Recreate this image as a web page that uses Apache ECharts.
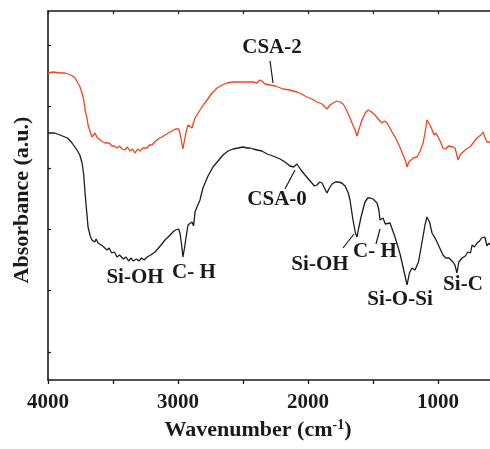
<!DOCTYPE html>
<html>
<head>
<meta charset="utf-8">
<script src="https://cdn.jsdelivr.net/npm/echarts@6/dist/echarts.min.js"></script>
<style>
  html, body { margin: 0; padding: 0; background: #ffffff; }
  #chart { width: 490px; height: 449px; }
</style>
</head>
<body>
<div id="chart"></div>
<script>
// FTIR spectra: [wavenumber (cm-1), absorbance (a.u.)]
const spectrumCSA0 = [
  [4000,24.7],[3950,24.7],[3908,24.5],[3850,24.2],[3815,23.7],[3777,23.0],[3755,22.5],[3738,21.7],[3725,20.5],[3715,18.7],
  [3700,16.5],[3692,15.3],[3675,14.4],[3662,14.0],[3650,14.2],[3640,13.8],[3630,14.1],[3615,13.7],[3600,13.9],[3580,13.4],
  [3565,13.6],[3546,13.0],[3530,13.2],[3510,12.7],[3490,12.8],[3469,12.3],[3450,12.5],[3420,12.1],[3400,12.3],[3380,11.9],
  [3360,12.2],[3346,11.9],[3320,12.1],[3300,11.9],[3280,12.2],[3260,12.0],[3238,12.3],[3210,12.5],[3177,12.8],[3150,13.2],
  [3130,13.5],[3100,14.0],[3085,14.2],[3060,14.5],[3040,14.8],[3020,15.0],[3008,15.1],[2995,15.1],[2985,14.7],[2972,13.5],
  [2962,12.3],[2950,13.2],[2938,14.3],[2923,15.5],[2908,15.7],[2892,15.8],[2880,15.4],[2869,16.8],[2854,17.3],[2831,18.0],
  [2808,19.2],[2769,20.4],[2731,21.3],[2692,21.9],[2654,22.5],[2615,22.9],[2577,23.1],[2538,23.2],[2500,23.3],[2470,23.2],
  [2446,23.2],[2420,23.1],[2392,23.0],[2354,22.9],[2315,22.6],[2269,22.4],[2215,22.1],[2177,21.8],[2138,21.4],[2110,21.3],
  [2085,21.6],[2054,21.0],[2023,20.5],[1977,19.8],[1950,19.4],[1931,19.5],[1910,19.8],[1892,19.7],[1870,19.1],[1854,18.7],
  [1835,19.2],[1815,19.6],[1790,19.8],[1769,19.8],[1740,19.7],[1715,19.4],[1690,18.7],[1677,18.0],[1654,16.0],[1635,14.7],
  [1623,14.3],[1610,15.2],[1592,16.3],[1562,17.8],[1540,18.2],[1523,18.2],[1500,18.1],[1469,17.7],[1455,17.0],[1446,16.0],
  [1423,16.2],[1405,15.6],[1392,15.5],[1369,15.7],[1350,15.0],[1331,14.3],[1310,13.4],[1292,12.6],[1269,11.3],[1250,10.2],
  [1238,9.5],[1220,10.7],[1200,11.2],[1177,11.0],[1150,11.8],[1120,14.0],[1100,15.5],[1085,16.3],[1065,15.8],[1046,14.7],
  [1015,14.0],[990,13.3],[962,12.5],[940,12.2],[915,12.2],[885,11.8],[870,11.5],[854,10.7],[840,11.8],[815,12.2],
  [790,12.4],[770,12.8],[750,12.7],[738,13.5],[720,13.3],[700,13.7],[680,13.9],[665,14.2],[654,14.0],[640,14.3],
  [623,13.4],[610,13.7],[600,13.5]
];

const spectrumCSA2 = [
  [4000,30.7],[3960,30.8],[3908,30.7],[3870,30.7],[3846,30.6],[3810,30.4],[3792,30.2],[3770,29.7],[3754,29.3],[3738,28.7],
  [3725,28.0],[3715,27.0],[3700,26.2],[3692,25.5],[3675,24.8],[3662,24.3],[3650,24.5],[3638,24.7],[3625,24.3],[3615,24.2],
  [3600,24.0],[3590,24.2],[3577,23.8],[3560,23.7],[3546,23.5],[3530,23.7],[3508,23.4],[3490,23.4],[3469,23.2],[3450,23.4],
  [3430,23.1],[3408,23.0],[3390,23.3],[3369,22.9],[3350,23.1],[3331,22.7],[3310,23.1],[3292,22.9],[3270,23.2],[3238,23.2],
  [3220,23.5],[3200,23.5],[3180,23.8],[3162,24.0],[3140,24.2],[3123,24.3],[3100,24.5],[3085,24.6],[3060,24.8],[3046,24.9],
  [3020,25.1],[3008,25.1],[2995,25.1],[2985,24.7],[2972,23.8],[2962,23.1],[2950,24.0],[2938,24.8],[2923,25.5],[2908,25.6],
  [2892,25.2],[2880,25.8],[2869,26.2],[2850,26.6],[2831,27.0],[2800,27.6],[2777,28.0],[2738,28.7],[2700,29.2],[2660,29.5],
  [2623,29.7],[2580,29.8],[2523,29.8],[2480,29.8],[2446,29.8],[2420,29.8],[2392,29.7],[2370,30.0],[2354,29.9],[2331,29.6],
  [2292,29.5],[2250,29.4],[2192,29.1],[2140,29.0],[2085,28.8],[2050,28.6],[2008,28.3],[1970,28.1],[1931,27.8],[1892,27.6],
  [1870,27.3],[1854,27.1],[1830,27.5],[1808,27.7],[1780,27.9],[1754,27.8],[1730,27.6],[1715,27.3],[1690,26.6],[1677,26.2],
  [1655,25.5],[1638,25.0],[1623,24.4],[1605,25.2],[1585,26.0],[1560,26.7],[1538,27.0],[1510,26.8],[1485,26.5],[1460,26.1],
  [1431,25.7],[1410,25.9],[1392,25.7],[1370,25.2],[1354,24.8],[1330,24.3],[1308,23.7],[1290,23.2],[1269,22.5],[1250,21.9],
  [1238,21.3],[1225,21.8],[1215,22.0],[1190,22.2],[1162,22.3],[1140,22.8],[1115,23.7],[1100,24.7],[1085,26.0],[1070,25.8],
  [1062,25.5],[1045,25.0],[1031,24.5],[1015,24.7],[1000,24.5],[980,23.8],[962,23.2],[940,23.1],[920,23.4],[908,23.2],
  [885,23.3],[869,23.2],[855,22.5],[846,22.0],[830,22.5],[808,22.8],[790,23.0],[770,23.2],[754,23.3],[730,23.7],
  [715,23.9],[700,24.2],[685,24.0],[670,24.5],[654,24.8],[640,24.3],[623,23.8],[610,24.0],[600,23.8]
];

// axis ticks
const xMajorTicks = [4000, 3000, 2000, 1000];
const xAllTicks = [4000, 3500, 3000, 2500, 2000, 1500, 1000];
const yTicks = [2.8, 8.94, 15.08, 21.22, 27.36, 33.5];
const xRange = [600, 4000];
const yRange = [0, 36.9];

// band labels: text centred at [wavenumber, absorbance]
const bandLabels = [
  { text: 'CSA-2',   at: [2277, 33.2] },
  { text: 'CSA-0',   at: [2238, 18.0] },
  { text: 'Si-OH',   at: [3331, 10.2] },
  { text: 'C- H',    at: [2877, 10.7] },
  { text: 'Si-OH',   at: [1908, 11.5] },
  { text: 'C- H',    at: [1485, 12.8] },
  { text: 'Si-O-Si', at: [1292, 8.0] },
  { text: 'Si-C',    at: [808, 9.5] }
];
// leader lines from label to curve
const leaderLines = [
  [[2292, 31.9], [2269, 29.7]],
  [[2177, 19.1], [2100, 21.0]],
  [[1731, 13.2], [1646, 14.6]],
  [[1477, 13.6], [1446, 15.1]]
];

const SERIF = '"Liberation Serif", "Times New Roman", serif';
const INK = '#1a1a1a';

const chart = echarts.init(document.getElementById('chart'), null, { renderer: 'canvas' });

const axisLineStyle = { color: INK, width: 1.6 };

chart.setOption({
  animation: false,
  backgroundColor: '#ffffff',
  grid: { left: 48, top: 11, right: 0, bottom: 69, containLabel: false },
  xAxis: [
    {
      type: 'value', min: xRange[0], max: xRange[1], inverse: true,
      position: 'bottom',
      axisLine: { show: true, lineStyle: axisLineStyle },
      axisTick: { show: true, inside: false, length: 4, customValues: xAllTicks, lineStyle: { color: INK, width: 1.3 } },
      axisLabel: {
        show: true, customValues: xMajorTicks, margin: 12,
        formatter: (v) => String(Math.round(v)),
        fontFamily: SERIF, fontWeight: 'bold', fontSize: 21, color: INK
      },
      splitLine: { show: false }
    },
    {
      type: 'value', min: xRange[0], max: xRange[1], inverse: true,
      position: 'top',
      axisLine: { show: true, onZero: false, lineStyle: axisLineStyle },
      axisTick: { show: true, inside: true, length: 3, customValues: xAllTicks, lineStyle: { color: INK, width: 1.2 } },
      axisLabel: { show: false },
      splitLine: { show: false }
    }
  ],
  yAxis: {
    type: 'value', min: yRange[0], max: yRange[1],
    axisLine: { show: true, onZero: false, lineStyle: axisLineStyle },
    axisTick: { show: true, inside: true, length: 3, customValues: yTicks, lineStyle: { color: INK, width: 1.2 } },
    axisLabel: { show: false },
    splitLine: { show: false }
  },
  series: [
    {
      name: 'CSA-0', type: 'line', data: spectrumCSA0, showSymbol: false,
      lineStyle: { color: '#1c1c1c', width: 1.3 }, smooth: false, z: 3
    },
    {
      name: 'CSA-2', type: 'line', data: spectrumCSA2, showSymbol: false,
      lineStyle: { color: '#f0461e', width: 1.3 }, smooth: false, z: 3
    }
  ]
});

const toPx = (p) => chart.convertToPixel({ xAxisIndex: 0, yAxisIndex: 0 }, p);

const graphics = [];
bandLabels.forEach((b) => {
  const [x, y] = toPx(b.at);
  graphics.push({
    type: 'text', x: x, y: y, z: 10,
    style: {
      text: b.text, fill: INK,
      font: 'bold 21px ' + SERIF,
      textAlign: 'center', textVerticalAlign: 'middle'
    }
  });
});
leaderLines.forEach((seg) => {
  const a = toPx(seg[0]);
  const b = toPx(seg[1]);
  graphics.push({
    type: 'line', z: 10,
    shape: { x1: a[0], y1: a[1], x2: b[0], y2: b[1] },
    style: { stroke: INK, lineWidth: 1.2 }
  });
});

// axis titles
graphics.push({
  type: 'text', x: 22, y: 200, rotation: Math.PI / 2, z: 10,
  style: {
    text: 'Absorbance (a.u.)', fill: INK,
    font: 'bold 22px ' + SERIF,
    textAlign: 'center', textVerticalAlign: 'middle'
  }
});
graphics.push({
  type: 'text', x: 258, y: 430, z: 10,
  style: {
    text: '{m|Wavenumber (cm}{s|-1}{m|)}',
    fill: INK,
    textAlign: 'center', textVerticalAlign: 'middle',
    rich: {
      m: { fontFamily: SERIF, fontWeight: 'bold', fontSize: 22, lineHeight: 24, fill: INK },
      s: { fontFamily: SERIF, fontWeight: 'bold', fontSize: 14, lineHeight: 24, verticalAlign: 'top', fill: INK }
    }
  }
});

chart.setOption({ graphic: graphics });
</script>
</body>
</html>
